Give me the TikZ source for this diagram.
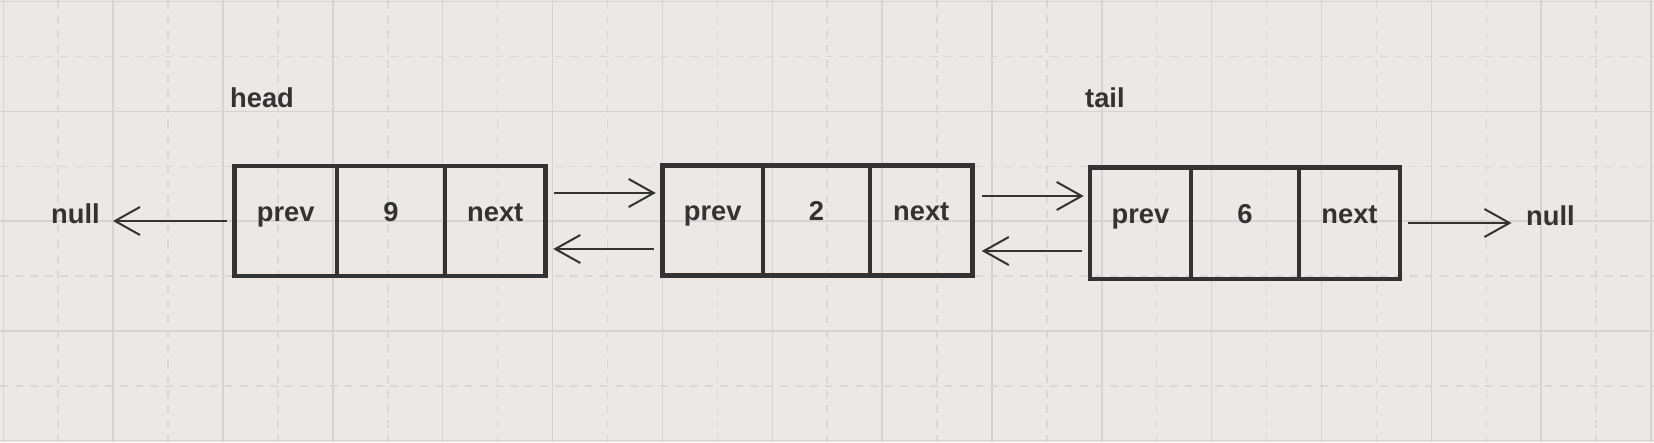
\documentclass[tikz,border=0pt]{standalone}
\usepackage{fontspec}
\setmainfont{Liberation Sans}
\usetikzlibrary{arrows.meta}
\definecolor{bg}{HTML}{EBE8E5}
\definecolor{gridsolid}{HTML}{D6D3D1}
\definecolor{griddash}{HTML}{DAD7D4}
\definecolor{ink}{HTML}{333333}
\begin{document}
\begin{tikzpicture}[x=1pt,y=-1pt,
  txt/.style={font=\fontsize{27.3}{31}\selectfont\bfseries, text=ink},
  cell/.style={txt, draw=ink, line width=4.5pt, minimum height=110pt, inner sep=0pt, text height=10pt, text depth=10pt},
  lbl/.style={txt, anchor=base west, inner sep=0pt},
  arr/.style={draw=ink, line width=2pt, -{Straight Barb[length=25pt,width=28pt]}},
  gsolid/.style={draw=gridsolid, line width=1.5pt},
  gdash/.style={draw=griddash, line width=1.5pt, dash pattern=on 8pt off 7pt},
]
% background and grid
\fill[bg] (0,0) rectangle (1654,442);
\useasboundingbox (0,0) rectangle (1654,442);
\foreach \k in {0,...,14} {
  \draw[gdash] ({58.2+109.85*\k},0) -- ({58.2+109.85*\k},442);
}
\foreach \k in {0,...,3} {
  \draw[gdash] (0,{56.6+109.75*\k}) -- (1654,{56.6+109.75*\k});
}
\foreach \k in {0,...,15} {
  \draw[gsolid] ({3.3+109.85*\k},0) -- ({3.3+109.85*\k},442);
}
\foreach \k in {0,...,4} {
  \draw[gsolid] (0,{1.7+109.75*\k}) -- (1654,{1.7+109.75*\k});
}

% head node
\node[cell, minimum width=102.5pt] (a1) at (285.75,221) {prev};
\node[cell, minimum width=108pt]   (a2) at (391,221) {9};
\node[cell, minimum width=100.5pt] (a3) at (495.25,221) {next};
% middle node
\node[cell, minimum width=100.5pt, minimum height=110pt] (b1) at (712.75,220.5) {prev};
\node[cell, minimum width=107pt, minimum height=110pt]   (b2) at (816.5,220.5) {2};
\node[cell, minimum width=102.5pt, minimum height=110pt] (b3) at (921.25,220.5) {next};
% tail node
\node[cell, minimum width=101pt, minimum height=111.5pt] (c1) at (1140.5,223.25) {prev};
\node[cell, minimum width=108pt, minimum height=111.5pt] (c2) at (1245,223.25) {6};
\node[cell, minimum width=101pt, minimum height=111.5pt] (c3) at (1349.5,223.25) {next};

% labels
\node[lbl] (head) at (230,107) {head};
\node[lbl] (tail) at (1085,107) {tail};
\node[lbl] (nullL) at (51,223) {null};
\node[lbl] (nullR) at (1526,225) {null};

% rows for arrows
\coordinate (r0) at (0,221);
\coordinate (r1) at (0,193);
\coordinate (r2) at (0,249);
\coordinate (r3) at (0,196);
\coordinate (r4) at (0,251);
\coordinate (r5) at (0,223);

\draw[arr, shorten <=5.5pt, shorten >=13pt] (a1.west |- r0) -- (nullL.east |- r0);
\draw[arr, shorten <=6.5pt, shorten >=4.5pt] (a3.east |- r1) -- (b1.west |- r1);
\draw[arr, shorten <=6.5pt, shorten >=5.5pt] (b1.west |- r2) -- (a3.east |- r2);
\draw[arr, shorten <=7.5pt, shorten >=4pt] (b3.east |- r3) -- (c1.west |- r3);
\draw[arr, shorten <=6pt, shorten >=7pt] (c1.west |- r4) -- (b3.east |- r4);
\draw[arr, shorten <=6pt, shorten >=14.5pt] (c3.east |- r5) -- (nullR.west |- r5);
\end{tikzpicture}
\end{document}
